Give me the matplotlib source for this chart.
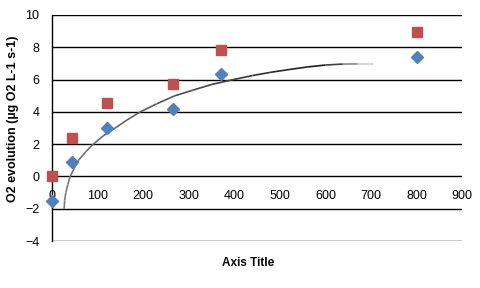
import matplotlib
matplotlib.use("Agg")
import matplotlib.pyplot as plt
import numpy as np
from matplotlib.collections import LineCollection

plt.rcParams['font.family'] = ['Liberation Sans', 'DejaVu Sans']

# series
time_s = [0, 45, 120, 265, 370, 800]
blue_vals = [-1.5, 0.9, 3.02, 4.16, 6.33, 7.39]
red_vals = [0.0, 2.4, 4.53, 5.71, 7.86, 8.92]

# hand drawn trend curve
curve_x = [27, 28, 30.7, 35, 40, 50, 58.5, 75, 91, 112, 139, 165, 194, 230, 270, 310,
           351, 398, 440, 480, 520, 560, 600, 638, 670, 704]
curve_y = [-2.0, -1.5, -1.0, -0.5, 0.0, 0.55, 1.0, 1.55, 2.0, 2.5, 3.0, 3.5, 4.0, 4.5,
           5.0, 5.35, 5.7, 6.0, 6.25, 6.45, 6.62, 6.78, 6.9, 6.96, 6.97, 6.97]

xticks = [0, 100, 200, 300, 400, 500, 600, 700, 800, 900]
yticks = [-4, -2, 0, 2, 4, 6, 8, 10]

fig = plt.figure(figsize=(4.8, 2.88), dpi=100)
ax = fig.add_axes([0.108, 0.163, 0.855, 0.785])

ax.set_xlim(0, 900)
ax.set_ylim(-4, 10)

for yv in yticks:
    ax.axhline(yv, color='black', lw=1.0, zorder=1)

# trend curve, grey with a darker fading tail
pts = np.column_stack([curve_x, curve_y])
segs = np.stack([pts[:-1], pts[1:]], axis=1)
cols = []
for i in range(len(segs)):
    xm = (curve_x[i] + curve_x[i + 1]) / 2
    g = 0.5 - 0.4 * min(1.0, xm / 600)
    a = 1.0 if xm < 600 else max(0.0, 1 - (xm - 600) / 110)
    cols.append((g, g, g, a))
lc = LineCollection(segs, colors=cols, linewidths=1.2, zorder=2)
ax.add_collection(lc)

ax.plot(time_s, blue_vals, linestyle='none', marker='D', ms=6.5,
        color='#4F81BD', zorder=3, clip_on=False)
ax.plot(time_s, red_vals, linestyle='none', marker='s', ms=7.5,
        color='#C0504D', zorder=4, clip_on=False)

ax.spines['top'].set_visible(False)
ax.spines['right'].set_visible(False)
ax.spines['bottom'].set_position(('data', 0))
ax.spines['bottom'].set_visible(False)
ax.spines['left'].set_linewidth(1.0)

ax.set_xticks(xticks)
ax.set_yticks(yticks)
ax.tick_params(axis='both', length=0, labelsize=9)
ax.tick_params(axis='y', pad=9)
ax.tick_params(axis='x', pad=10)

ax.set_ylabel('O2 evolution (µg O2 L-1 s-1)', fontsize=9, fontweight='bold', labelpad=5)
ax.yaxis.set_label_coords(-0.08, 0.54)
fig.text(0.517, 0.087, 'Axis Title', fontsize=8.5, fontweight='bold', ha='center', va='center')

fig.savefig('out.png', dpi=100)
